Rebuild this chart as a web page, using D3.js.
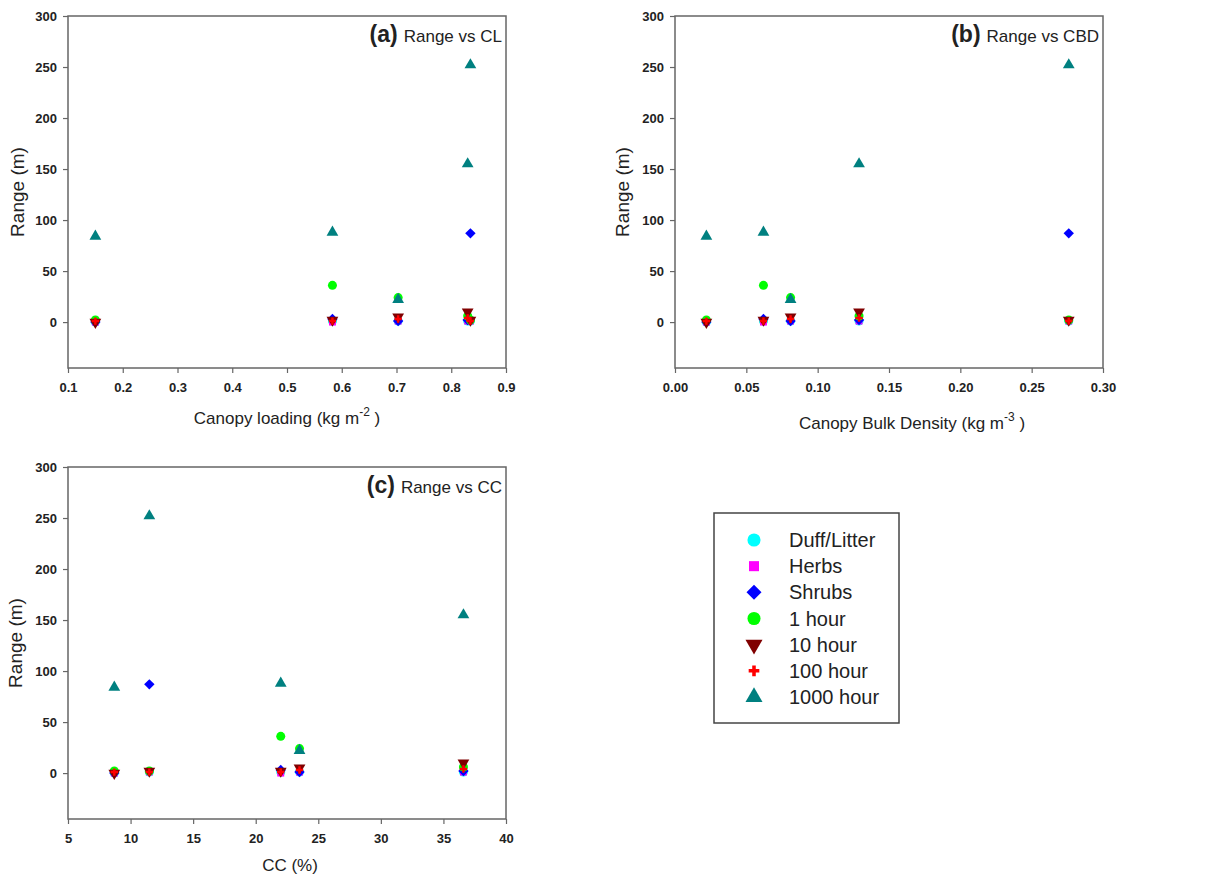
<!DOCTYPE html>
<html>
<head>
<meta charset="utf-8">
<script src="https://cdn.jsdelivr.net/npm/d3@7"></script>
<style>
  body { margin: 0; background: #fff; }
  text { font-family: Arial, "Liberation Sans", sans-serif; fill: #222; }
</style>
</head>
<body>
<svg id="chart" width="1213" height="875"></svg>
<script>
// x position of each of the five stands, one list per panel
var siteCL  = [0.15, 0.583, 0.703, 0.83, 0.835];
var siteCBD = [0.022, 0.062, 0.081, 0.129, 0.276];
var siteCC  = [8.7, 22.0, 23.5, 36.6, 11.5];

// range (m) per fuel type, in the same stand order
var seriesNames = ["Duff/Litter", "Herbs", "Shrubs", "1 hour", "10 hour", "100 hour", "1000 hour"];
var duffLitter = [0, 1, 1, 1, 1];
var herbs      = [0, 0, 1, 1, 1];
var shrubs     = [0, 3, 1, 2, 87];
var oneHour    = [2, 36, 24, 6, 2];
var tenHour    = [0, 2, 5, 10, 2];
var hundredHour  = [1, 1, 3, 4, 1];
var thousandHour = [84, 88, 22, 155, 252];

var yTicks = [0, 50, 100, 150, 200, 250, 300];

var seriesValues = [duffLitter, herbs, shrubs, oneHour, tenHour, hundredHour, thousandHour];
var colors = ["#00ffff", "#ff00ff", "#0000ff", "#00ff00", "#800000", "#ff0000", "#008080"];
// diamond = square turned 45 degrees, down triangle = triangle turned 180
var shapes = [d3.symbolCircle, d3.symbolSquare, d3.symbolSquare, d3.symbolCircle, d3.symbolTriangle, d3.symbolCross, d3.symbolTriangle];
var sizes = [64, 48, 54, 64, 60, 30, 60];
var rotate = [0, 0, 45, 0, 180, 0, 0];

var svg = d3.select("#chart");

var panels = [
  { xs: siteCL, domain: [0.1, 0.9], ticks: d3.range(0.1, 0.91, 0.1), fmt: d3.format(".1f"),
    left: 68, right: 506, top: 16, bottom: 368, tag: "(a)", label: "Range vs CL",
    title: ["Canopy loading (kg m", "-2", " )"], titleX: 287, titleY: 424, ylabX: 24 },
  { xs: siteCBD, domain: [0, 0.3], ticks: d3.range(0, 0.301, 0.05), fmt: d3.format(".2f"),
    left: 675, right: 1103, top: 16, bottom: 368, tag: "(b)", label: "Range vs CBD",
    title: ["Canopy Bulk Density (kg m", "-3", " )"], titleX: 912, titleY: 429, ylabX: 629 },
  { xs: siteCC, domain: [5, 40], ticks: d3.range(5, 41, 5), fmt: d3.format("d"),
    left: 68, right: 506, top: 467, bottom: 819, tag: "(c)", label: "Range vs CC",
    title: ["CC (%)"], titleX: 290, titleY: 871, ylabX: 22 }
];

panels.forEach(function(p) {
  var x = d3.scaleLinear().domain(p.domain).range([p.left, p.right]);
  var y = d3.scaleLinear().domain([-45, 300]).range([p.bottom, p.top]);
  var g = svg.append("g");

  // frame
  g.append("rect")
    .attr("x", p.left).attr("y", p.top)
    .attr("width", p.right - p.left).attr("height", p.bottom - p.top)
    .attr("fill", "none").attr("stroke", "#666").attr("stroke-width", 1.5);

  var xAxis = g.append("g")
    .attr("transform", "translate(0," + p.bottom + ")")
    .call(d3.axisBottom(x).tickValues(p.ticks).tickFormat(p.fmt).tickSize(5).tickPadding(10));
  var yAxis = g.append("g")
    .attr("transform", "translate(" + p.left + ",0)")
    .call(d3.axisLeft(y).tickValues(yTicks).tickSize(5).tickPadding(6));

  [xAxis, yAxis].forEach(function(a) {
    a.select(".domain").remove();
    a.selectAll("line").attr("stroke", "#666").attr("stroke-width", 1.2);
    a.selectAll("text").style("font-size", "13px").style("font-weight", "bold").attr("fill", "#333");
  });

  // axis titles
  g.append("text")
    .attr("transform", "translate(" + p.ylabX + "," + ((p.top + p.bottom) / 2) + ") rotate(-90)")
    .attr("text-anchor", "middle")
    .style("font-size", "19px")
    .text("Range (m)");

  var t = g.append("text")
    .attr("x", p.titleX).attr("y", p.titleY)
    .attr("text-anchor", "middle")
    .style("font-size", "17px");
  t.append("tspan").text(p.title[0]);
  if (p.title.length > 1) {
    t.append("tspan").attr("dy", -8).style("font-size", "12px").text(p.title[1]);
    t.append("tspan").attr("dy", 8).text(p.title[2]);
  }

  // panel tag
  var ann = g.append("text")
    .attr("x", p.right - 4).attr("y", p.top + 26)
    .attr("text-anchor", "end");
  ann.append("tspan").style("font-size", "23px").style("font-weight", "bold").text(p.tag);
  ann.append("tspan").attr("dx", 6).style("font-size", "17px").text(p.label);

  // points
  seriesValues.forEach(function(vals, si) {
    g.append("g").selectAll("path")
      .data(vals)
      .enter()
      .append("path")
      .attr("d", d3.symbol().type(shapes[si]).size(sizes[si]))
      .attr("transform", function(d, i) {
        return "translate(" + x(p.xs[i]) + "," + y(d) + ") rotate(" + rotate[si] + ")";
      })
      .attr("fill", colors[si]);
  });
});

// legend
var legend = svg.append("g");
legend.append("rect")
  .attr("x", 714).attr("y", 513).attr("width", 185).attr("height", 210)
  .attr("fill", "#fff").attr("stroke", "#444").attr("stroke-width", 1.5);

var rowY = d3.scalePoint().domain(seriesNames).range([540, 697]);
var item = legend.selectAll(".item")
  .data(seriesNames)
  .enter()
  .append("g")
  .attr("class", "item")
  .attr("transform", function(d) { return "translate(0," + rowY(d) + ")"; });

item.append("path")
  .attr("d", function(d, i) { return d3.symbol().type(shapes[i]).size(sizes[i] * 2.1)(); })
  .attr("transform", function(d, i) { return "translate(754,0) rotate(" + rotate[i] + ")"; })
  .attr("fill", function(d, i) { return colors[i]; });

item.append("text")
  .attr("x", 789).attr("dy", "0.35em")
  .style("font-size", "20px")
  .text(function(d) { return d; });
</script>
</body>
</html>
